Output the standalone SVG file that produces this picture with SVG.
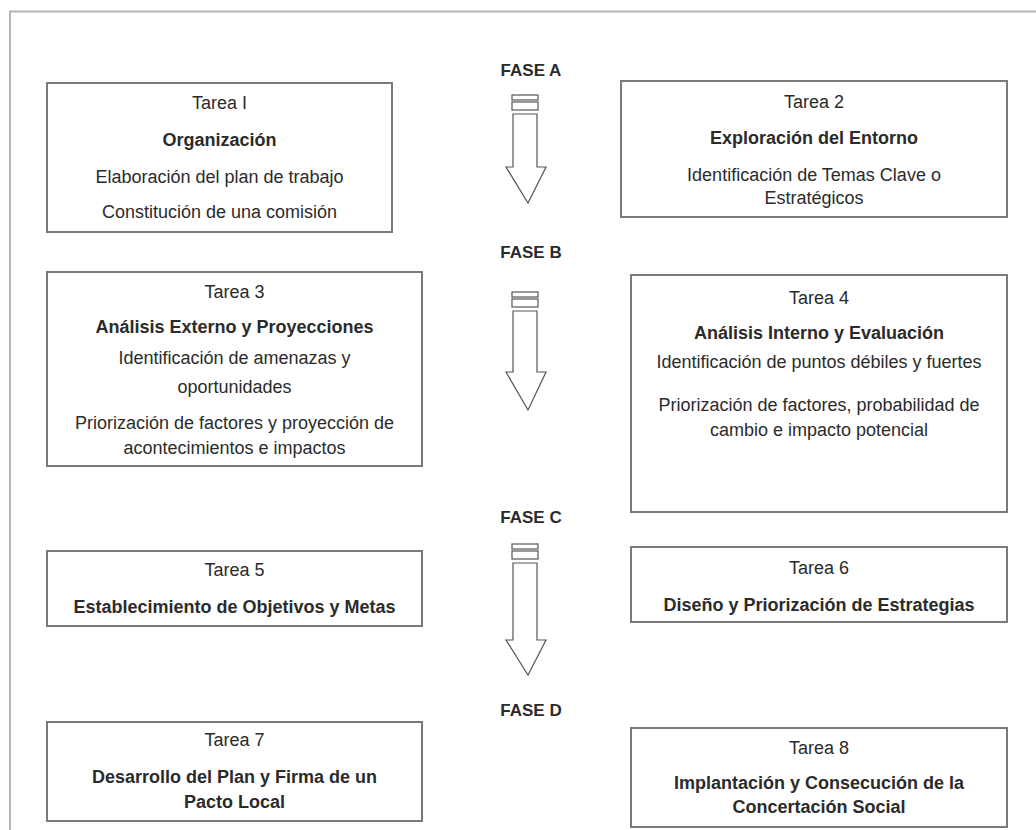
<svg xmlns="http://www.w3.org/2000/svg" width="1036" height="830" viewBox="0 0 1036 830">
<style>
.frame{fill:none;stroke:#b4b4b4;stroke-width:2}
.box{fill:#fff;stroke:#7a7a7a;stroke-width:2}
.arr{fill:#fff;stroke:#555;stroke-width:1.2}
text{font-family:"Liberation Sans",Arial,sans-serif;fill:#2b2b2b;text-anchor:middle}
.r{font-size:18px}
.b{font-size:18px;font-weight:bold}
.f{font-size:17px;font-weight:bold}
</style>
<defs>
<g id="stripes">
<rect class="arr" x="-13" y="0" width="26" height="5"/>
<rect class="arr" x="-13" y="7" width="26" height="8"/>
</g>
</defs>
<rect class="frame" x="10" y="11.5" width="1040" height="840"/>
<g id="connectors">
<g id="arrowA" transform="translate(525,95)">
<use href="#stripes"/>
<path class="arr" d="M-12,19 H12 V72 H21 L3,108 L-19,72 H-12 Z"/>
</g>
<g id="arrowB" transform="translate(525,292)">
<use href="#stripes"/>
<path class="arr" d="M-12,19 H12 V80 H21 L3,118 L-19,80 H-12 Z"/>
</g>
<g id="arrowC" transform="translate(525,544)">
<use href="#stripes"/>
<path class="arr" d="M-12,19 H12 V96 H21 L3,131 L-19,96 H-12 Z"/>
</g>
</g>
<g id="phases">
<text class="f" x="531" y="76">FASE A</text>
<text class="f" x="531" y="258">FASE B</text>
<text class="f" x="531" y="523">FASE C</text>
<text class="f" x="531" y="716">FASE D</text>
</g>
<g id="tarea1">
<rect class="box" x="47" y="83" width="345" height="149"/>
<text class="r" x="219.5" y="109">Tarea I</text>
<text class="b" x="219.5" y="146">Organización</text>
<text class="r" x="219.5" y="183">Elaboración del plan de trabajo</text>
<text class="r" x="219.5" y="218">Constitución de una comisión</text>
</g>
<g id="tarea2">
<rect class="box" x="621" y="81" width="386" height="136"/>
<text class="r" x="814" y="108">Tarea 2</text>
<text class="b" x="814" y="144">Exploración del Entorno</text>
<text class="r" x="814" y="181">Identificación de Temas Clave o</text>
<text class="r" x="814" y="204">Estratégicos</text>
</g>
<g id="tarea3">
<rect class="box" x="47" y="272" width="375" height="194"/>
<text class="r" x="234.5" y="298">Tarea 3</text>
<text class="b" x="234.5" y="333">Análisis Externo y Proyecciones</text>
<text class="r" x="234.5" y="364">Identificación de amenazas y</text>
<text class="r" x="234.5" y="393">oportunidades</text>
<text class="r" x="234.5" y="429">Priorización de factores y proyección de</text>
<text class="r" x="234.5" y="454">acontecimientos e impactos</text>
</g>
<g id="tarea4">
<rect class="box" x="631" y="275" width="376" height="237"/>
<text class="r" x="819" y="304">Tarea 4</text>
<text class="b" x="819" y="339">Análisis Interno y Evaluación</text>
<text class="r" x="819" y="368">Identificación de puntos débiles y fuertes</text>
<text class="r" x="819" y="411">Priorización de factores, probabilidad de</text>
<text class="r" x="819" y="436">cambio e impacto potencial</text>
</g>
<g id="tarea5">
<rect class="box" x="47" y="551" width="375" height="75"/>
<text class="r" x="234.5" y="576">Tarea 5</text>
<text class="b" x="234.5" y="613">Establecimiento de Objetivos y Metas</text>
</g>
<g id="tarea6">
<rect class="box" x="631" y="547" width="376" height="75"/>
<text class="r" x="819" y="574">Tarea 6</text>
<text class="b" x="819" y="611">Diseño y Priorización de Estrategias</text>
</g>
<g id="tarea7">
<rect class="box" x="47" y="722" width="375" height="99"/>
<text class="r" x="234.5" y="746">Tarea 7</text>
<text class="b" x="234.5" y="783">Desarrollo del Plan y Firma de un</text>
<text class="b" x="234.5" y="808">Pacto Local</text>
</g>
<g id="tarea8">
<rect class="box" x="631" y="728" width="376" height="99"/>
<text class="r" x="819" y="754">Tarea 8</text>
<text class="b" x="819" y="789">Implantación y Consecución de la</text>
<text class="b" x="819" y="813">Concertación Social</text>
</g>
</svg>
